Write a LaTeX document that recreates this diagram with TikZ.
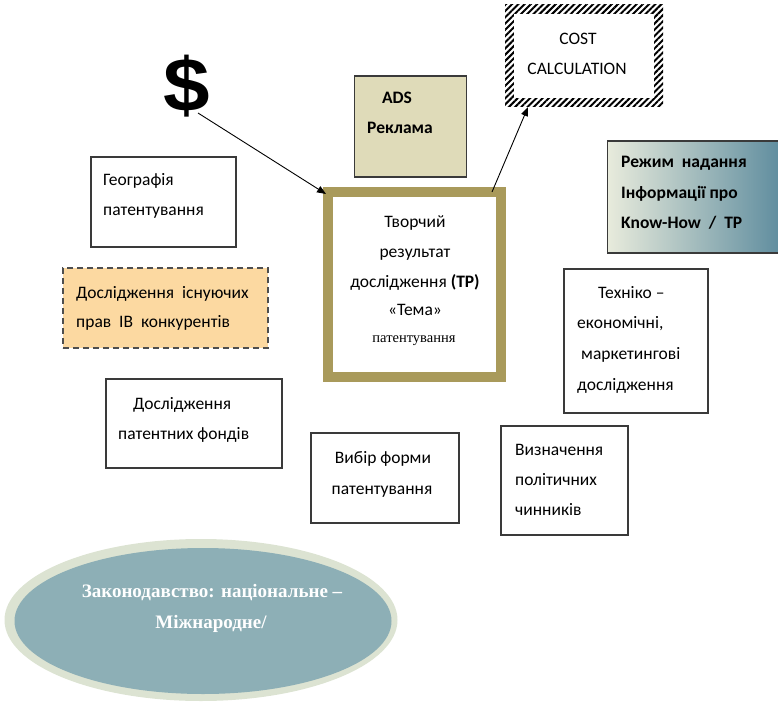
\documentclass[tikz,border=0pt]{standalone}
\usepackage{fontspec}
\setmainfont{Carlito}
\newfontfamily\serifface{Liberation Serif}
\newfontfamily\dollarface{Liberation Sans}
\usetikzlibrary{arrows.meta,patterns.meta,shapes.geometric}
\definecolor{boxgray}{HTML}{3A3A3A}
\definecolor{trcol}{HTML}{A99A5B}
\definecolor{adsfill}{HTML}{DFDBB9}
\definecolor{dashfill}{HTML}{FCD9A1}
\definecolor{gradleft}{HTML}{E8EBDC}
\definecolor{gradright}{HTML}{5E8C9E}
\definecolor{ellout}{HTML}{DCE3D2}
\definecolor{ellin}{HTML}{8DAFB6}
\begin{document}
\begin{tikzpicture}[x=1pt,y=1pt,
  plainbox/.style={draw=boxgray, line width=1.2pt, fill=white, inner sep=0pt, outer sep=0pt, anchor=north west},
  txt/.style={font=\fontsize{17.5}{20}\selectfont, inner sep=0pt, anchor=base west},
  ctxt/.style={txt, anchor=base},
  btxt/.style={txt, font=\fontsize{17.5}{20}\selectfont\bfseries},
  lawtxt/.style={font=\serifface\bfseries\fontsize{19}{22}\selectfont, text=white, inner sep=0pt, anchor=base},
  conn/.style={draw=black, line width=0.9pt, -{Triangle[length=9pt,width=7pt]}}
]
\useasboundingbox (0,0) rectangle (778,-703);

% ellipse
\node[ellipse, fill=ellout, minimum width=393, minimum height=162, inner sep=0pt] (lawout) at (201,-620) {};
\node[ellipse, fill=ellin, minimum width=377, minimum height=146, inner sep=0pt] (lawin) at (203,-621) {};
\node[lawtxt] (law1) at (212,-597) {Законодавство: національне –};
\node[lawtxt] (law2) at (211,-628) {Міжнародне/};

% dollar
\node[font=\dollarface\bfseries\fontsize{76}{76}\selectfont, inner sep=0pt] (dollar) at (187,-86) {\scalebox{1.1}[1]{\$}};

% ADS box
\node[plainbox, fill=adsfill, minimum width=112, minimum height=101] (ads) at (354.5,-76) {};
\node[btxt, anchor=base] (ads1) at (397,-104) {ADS};
\node[btxt, anchor=base] (ads2) at (400,-134) {Реклама};

% COST box
\node[inner sep=0pt, outer sep=0pt, anchor=north west, minimum width=158, minimum height=102,
  pattern={Lines[angle=45,distance=4.4pt,line width=2pt]}, pattern color=black] (cost) at (505,-5) {};
\node[inner sep=0pt, outer sep=0pt, anchor=north west, minimum width=140, minimum height=84, fill=white] (costin) at (514,-14) {};
\node[ctxt] (cost1) at (578,-45) {COST};
\node[ctxt] (cost2) at (577,-75) {CALCULATION};

% central TR box
\node[draw=trcol, line width=10pt, fill=white, minimum width=173, minimum height=185, inner sep=0pt, outer sep=0pt, anchor=north west] (tr) at (328,-192) {};
\node[ctxt] (tr1) at (415,-227) {Творчий};
\node[ctxt] (tr2) at (415,-257) {результат};
\node[ctxt] (tr3) at (415,-287) {дослідження \textbf{(ТР)}};
\node[ctxt] (tr4) at (415,-315) {«Тема»};
\node[ctxt, font=\serifface\fontsize{14.5}{16}\selectfont] (tr5) at (414,-342) {патентування};

% Режим box
\node[draw=boxgray, line width=1.2pt, left color=gradleft, right color=gradright, inner sep=0pt, outer sep=0pt, anchor=north west, minimum width=175, minimum height=112] (rezhim) at (607.5,-141) {};
\node[btxt] (rz1) at (621,-168) {Режим\ \ надання};
\node[btxt] (rz2) at (621,-199) {Інформації про};
\node[btxt] (rz3) at (621,-229) {Know-How\ \ /\ \ TP};

% Географія
\node[plainbox, minimum width=145, minimum height=90] (geo) at (91,-157) {};
\node[txt] (geo1) at (103,-186) {Географія};
\node[txt] (geo2) at (103,-216) {патентування};

% dashed box
\node[plainbox, draw=boxgray!90, fill=dashfill, dash pattern=on 6pt off 4pt, line width=1.6pt, minimum width=205, minimum height=80] (rights) at (63,-268) {};
\node[txt] (rt1) at (76,-298) {Дослідження\ \ існуючих};
\node[txt] (rt2) at (76,-327) {прав\ \ ІВ\ \ конкурентів};

% Техніко box
\node[plainbox, minimum width=144, minimum height=144] (tech) at (564,-269) {};
\node[txt] (te1) at (598,-298) {Техніко –};
\node[txt] (te2) at (577,-328) {економічні,};
\node[txt] (te3) at (581,-359) {маркетингові};
\node[txt] (te4) at (577,-390) {дослідження};

% Дослідження патентних фондів
\node[plainbox, minimum width=176, minimum height=89] (funds) at (106,-379) {};
\node[txt] (fu1) at (133,-409) {Дослідження};
\node[txt] (fu2) at (118,-439) {патентних фондів};

% Вибір форми
\node[plainbox, minimum width=148, minimum height=90] (form) at (311,-433) {};
\node[ctxt] (fo1) at (383,-463) {Вибір форми};
\node[ctxt] (fo2) at (382,-494) {патентування};

% Визначення
\node[plainbox, minimum width=127, minimum height=109] (polit) at (501,-426) {};
\node[txt] (po1) at (515,-455) {Визначення};
\node[txt] (po2) at (515,-485) {політичних};
\node[txt] (po3) at (515,-515) {чинників};

% connectors
\draw[conn] ([shift={(11,-27)}]dollar.center) -- ([shift={(-2,-2)}]tr.north west);
\draw[conn] ([xshift=-9]tr.north east) -- ([xshift=23]cost.south west);
\end{tikzpicture}
\end{document}
